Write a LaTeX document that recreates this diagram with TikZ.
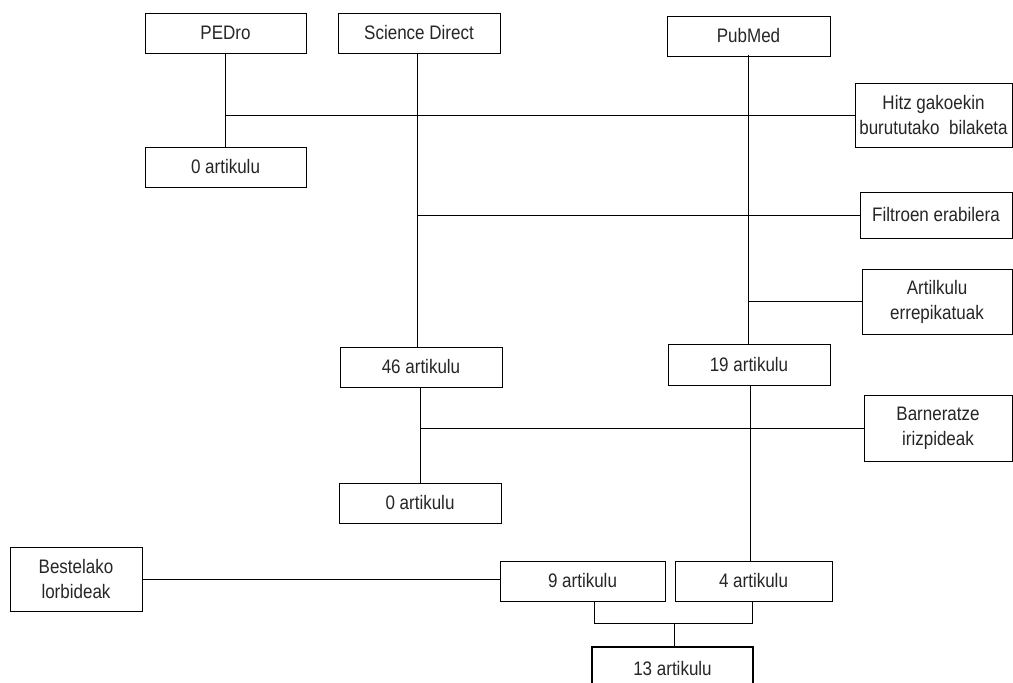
\documentclass[tikz,border=0pt]{standalone}
\usepackage{fontspec}
\usepackage{graphicx}
\setmainfont{Liberation Sans}
\newcommand{\vt}[1]{\scalebox{1}[1.15]{#1}}
\begin{document}
\begin{tikzpicture}[x=1pt,y=-1pt,
  box/.style={draw=black,line width=1pt,fill=white,inner sep=0pt,align=center,
    font=\fontsize{17}{25}\selectfont,text=black!85},
  thickbox/.style={box,line width=2.6pt},
  conn/.style={draw=black,line width=1pt}]
\useasboundingbox (0,0) rectangle (1013,683);
\clip (0,0) rectangle (1013,683);
% nodes
\node[box,minimum width=161pt,minimum height=40pt] (pedro) at (225.5,33) {\vt{PEDro}};
\node[box,minimum width=162pt,minimum height=40pt] (sd) at (419,33) {\vt{Science Direct}};
\node[box,minimum width=163pt,minimum height=40pt] (pubmed) at (748.5,36) {\vt{PubMed}};
\node[box,minimum width=157pt,minimum height=64pt] (hitz) at (933.5,115) {\vt{Hitz gakoekin}\\\vt{burututako~ bilaketa}};
\node[box,minimum width=161pt,minimum height=40pt] (art0a) at (225.5,167) {\vt{0 artikulu}};
\node[box,minimum width=152pt,minimum height=46pt] (filtro) at (936,215) {\vt{Filtroen erabilera}};
\node[box,minimum width=150pt,minimum height=65pt] (artilk) at (937,301.5) {\vt{Artilkulu}\\\vt{errepikatuak}};
\node[box,minimum width=162pt,minimum height=40pt] (a46) at (421,367) {\vt{46 artikulu}};
\node[box,minimum width=162pt,minimum height=41pt] (a19) at (749,364.5) {\vt{19 artikulu}};
\node[box,minimum width=148pt,minimum height=66pt] (barn) at (938,428) {\vt{Barneratze}\\\vt{irizpideak}};
\node[box,minimum width=162pt,minimum height=40pt] (a0b) at (420,503) {\vt{0 artikulu}};
\node[box,minimum width=132pt,minimum height=64pt] (best) at (76,579) {\vt{Bestelako}\\\vt{lorbideak}};
\node[box,minimum width=165pt,minimum height=40pt] (a9) at (582.5,581) {\vt{9 artikulu}};
\node[box,minimum width=157pt,minimum height=40pt] (a4) at (753.5,581) {\vt{4 artikulu}};
\node[thickbox,minimum width=161pt,minimum height=43pt] (a13) at (672.5,668.5) {\vt{13 artikulu}};
% helper coordinates
\coordinate (bl) at (594,623);
\coordinate (brr) at (752,623);
% connectors
\draw[conn] (pedro.south) -- (art0a.north);
\draw[conn] (pedro.south |- hitz.west) -- (hitz.west);
\draw[conn] ([xshift=-2pt]sd.south) -- ([xshift=-2pt]sd.south |- a46.north);
\draw[conn] ([xshift=-2pt]sd.south |- filtro.west) -- (filtro.west);
\draw[conn] ([yshift=2pt]pubmed.south) -- (pubmed.south |- a19.north);
\draw[conn] (pubmed.south |- artilk.west) -- (artilk.west);
\draw[conn] ([xshift=1.5pt]a19.south) -- ([xshift=1.5pt]a19.south |- a4.north);
\draw[conn] ([xshift=-1pt]a46.south) -- ([xshift=-1pt]a46.south |- a0b.north);
\draw[conn] ([xshift=-1pt]a46.south |- barn.west) -- (barn.west);
\draw[conn] (best.east) -- (best.east -| a9.west);
\draw[conn] (a9.south -| bl) -- (bl) -- (brr) -- (a4.south -| brr);
\draw[conn] ([xshift=1.5pt]a13.north) -- ([xshift=1.5pt]a13.north |- bl);
\end{tikzpicture}
\end{document}
